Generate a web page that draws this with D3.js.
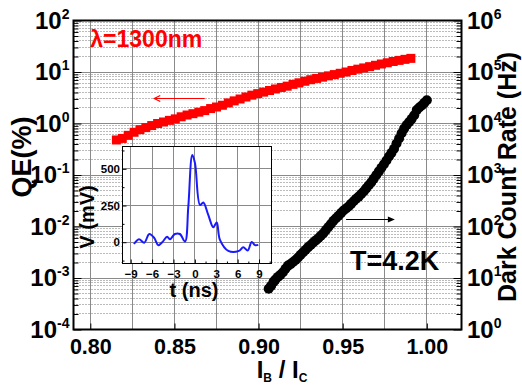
<!DOCTYPE html>
<html>
<head>
<meta charset="utf-8">
<script src="https://cdn.jsdelivr.net/npm/d3@7"></script>
<style>
  body { margin: 0; background: #fff; }
  svg { display: block; font-family: "Liberation Sans", Arial, sans-serif; font-weight: bold; }
</style>
</head>
<body>
<svg id="chart" width="522" height="386"></svg>
<script>
// QE (%) vs bias ratio, red squares, left axis
const qeBias = [0.8155, 0.8190, 0.8225, 0.8260, 0.8295, 0.8330, 0.8365, 0.8400, 0.8435, 0.8470,
  0.8505, 0.8540, 0.8575, 0.8610, 0.8645, 0.8680, 0.8715, 0.8750, 0.8785, 0.8820,
  0.8855, 0.8890, 0.8925, 0.8960, 0.8995, 0.9030, 0.9065, 0.9100, 0.9135, 0.9170,
  0.9205, 0.9240, 0.9275, 0.9310, 0.9345, 0.9380, 0.9415, 0.9450, 0.9485, 0.9520,
  0.9555, 0.9590, 0.9625, 0.9660, 0.9695, 0.9730, 0.9765, 0.9800, 0.9835, 0.9870, 0.9905];
const qeValues = [0.479, 0.513, 0.589, 0.676, 0.759, 0.832, 0.912, 1.00, 1.07, 1.15,
  1.23, 1.35, 1.46, 1.55, 1.66, 1.78, 1.95, 2.09, 2.26, 2.51,
  2.75, 2.99, 3.27, 3.55, 3.80, 4.07, 4.37, 4.68, 5.01, 5.31,
  5.75, 6.17, 6.61, 7.08, 7.50, 7.94, 8.41, 8.91, 9.44, 10.0,
  10.7, 11.35, 12.0, 12.7, 13.5, 14.3, 15.1, 16.0, 16.8, 17.6, 18.4];

// dark count rate (Hz) vs bias ratio, black circles, right axis
const dcrBias = [0.9060, 0.9075, 0.9090, 0.9100, 0.9115, 0.9130, 0.9145, 0.9160, 0.9175, 0.9190,
  0.9205, 0.9220, 0.9235, 0.9250, 0.9265, 0.9280, 0.9295, 0.9310, 0.9325, 0.9340,
  0.9355, 0.9370, 0.9385, 0.9400, 0.9415, 0.9430, 0.9445, 0.9460, 0.9475, 0.9490,
  0.9505, 0.9520, 0.9535, 0.9550, 0.9565, 0.9580, 0.9595, 0.9610, 0.9625, 0.9640,
  0.9655, 0.9670, 0.9685, 0.9700, 0.9715, 0.9730, 0.9745, 0.9760, 0.9775, 0.9790,
  0.9805, 0.9820, 0.9835, 0.9850, 0.9865, 0.9880, 0.9895, 0.9910, 0.9925, 0.9940,
  0.9955, 0.9970, 0.9985, 1.0000];
const dcrValues = [6.2, 7.1, 8.5, 9.3, 10.5, 11.5, 12.9, 15.1, 17.4, 18.6,
  20.4, 22.4, 25.1, 28.2, 31.6, 35.5, 39.8, 43.7, 49.0, 53.7,
  58.9, 66.1, 74.1, 85.1, 97.7, 112, 129, 145, 162, 182,
  204, 224, 245, 275, 309, 347, 380, 427, 479, 550,
  631, 724, 851, 1000, 1175, 1380, 1622, 1905, 2291, 2692,
  3236, 4074, 5129, 6457, 7943, 9333, 10715, 12303, 14454, 18197,
  20417, 22387, 25119, 28184];

// inset: single detector pulse
const pulseTime = [-8.54, -7.84, -7.10, -6.39, -5.70, -5.13, -4.50, -3.90, -3.50, -2.80,
  -2.10, -1.38, -0.92, -0.36, 0.02, 0.72, 1.18, 1.88, 2.58, 3.06,
  3.52, 4.69, 6.19, 6.79, 7.41, 7.97, 8.43, 8.90];
const pulseVolt = [-12, 20, -3, 56, 29, -20, 4, 38, 20, 56,
  56, 4, 242, 594, 538, 254, 270, 186, 102, 134,
  16, -59, -59, -34, -57, 2, -20, -18];

const xTicks = [0.80, 0.85, 0.90, 0.95, 1.00];
const xGrid = [0.800, 0.825, 0.850, 0.875, 0.900, 0.925, 0.950, 0.975, 1.000];
const qeTicks = [1e-4, 1e-3, 1e-2, 1e-1, 1e0, 1e1, 1e2];
const dcrTicks = [1e0, 1e1, 1e2, 1e3, 1e4, 1e5, 1e6];
const insetTimeTicks = [-9, -6, -3, 0, 3, 6, 9];
const insetVoltTicks = [0, 250, 500];

// arrows: [from, to] bias, level on own axis
const qeArrowBias = [0.868, 0.838];
const qeArrowLevel = 3.0;
const dcrArrowBias = [0.952, 0.981];
const dcrArrowLevel = 138;

const svg = d3.select('#chart');

const plot = { left: 73.5, right: 461.5, top: 20.5, bottom: 329.5 };

const x = d3.scaleLinear().domain([0.79, 1.0206]).range([plot.left, plot.right]);
const yQE = d3.scaleLog().domain([1e-4, 1e2]).range([plot.bottom, plot.top]);
const yDC = d3.scaleLog().domain([1, 1e6]).range([plot.bottom, plot.top]);

// minor log positions (2..9 each decade)
const minorQE = [];
for (let e = -4; e < 2; e++) for (let k = 2; k <= 9; k++) minorQE.push(k * Math.pow(10, e));
const minorDC = minorQE.map(v => v * 1e4);

const crisp = v => Math.round(v - 0.5) + 0.5;

// grid
const grid = svg.append('g');
grid.selectAll('.minor')
  .data(minorQE)
  .join('line')
  .attr('class', 'minor')
  .attr('x1', plot.left).attr('x2', plot.right)
  .attr('y1', d => crisp(yQE(d))).attr('y2', d => crisp(yQE(d)))
  .attr('stroke', '#777')
  .attr('stroke-dasharray', '1,2');
grid.selectAll('.hmajor')
  .data(qeTicks.slice(1, -1))
  .join('line')
  .attr('class', 'hmajor')
  .attr('x1', plot.left).attr('x2', plot.right)
  .attr('y1', d => crisp(yQE(d))).attr('y2', d => crisp(yQE(d)))
  .attr('stroke', '#8a8a8a');
grid.selectAll('.vmajor')
  .data(xGrid)
  .join('line')
  .attr('class', 'vmajor')
  .attr('x1', d => crisp(x(d))).attr('x2', d => crisp(x(d)))
  .attr('y1', plot.top).attr('y2', plot.bottom)
  .attr('stroke', '#8a8a8a');

// data
const qeData = qeBias.map((b, i) => ({ b, v: qeValues[i] }));
const dcrData = dcrBias.map((b, i) => ({ b, v: dcrValues[i] }));

svg.append('g').selectAll('rect')
  .data(qeData)
  .join('rect')
  .attr('x', d => x(d.b) - 4.5)
  .attr('y', d => yQE(d.v) - 4.5)
  .attr('width', 9).attr('height', 9)
  .attr('fill', '#ff0000');

svg.append('g').selectAll('circle')
  .data(dcrData)
  .join('circle')
  .attr('cx', d => x(d.b))
  .attr('cy', d => yDC(d.v))
  .attr('r', 5)
  .attr('fill', '#000');

// arrows
const qa = { x1: x(qeArrowBias[0]), x2: x(qeArrowBias[1]), y: crisp(yQE(qeArrowLevel)) };
svg.append('line')
  .attr('x1', qa.x1).attr('x2', qa.x2).attr('y1', qa.y).attr('y2', qa.y)
  .attr('stroke', '#ff0000').attr('stroke-width', 1.2);
svg.append('path')
  .attr('d', `M${qa.x2 + 6},${qa.y - 3}L${qa.x2},${qa.y}L${qa.x2 + 6},${qa.y + 3}`)
  .attr('fill', 'none').attr('stroke', '#ff0000').attr('stroke-width', 1.2);

const da = { x1: x(dcrArrowBias[0]), x2: x(dcrArrowBias[1]), y: crisp(yDC(dcrArrowLevel)) };
svg.append('line')
  .attr('x1', da.x1).attr('x2', da.x2 - 4).attr('y1', da.y).attr('y2', da.y)
  .attr('stroke', '#000').attr('stroke-width', 1.2);
svg.append('path')
  .attr('d', `M${da.x2 - 7},${da.y - 3}L${da.x2},${da.y}L${da.x2 - 7},${da.y + 3}Z`)
  .attr('fill', '#000');

// inset
const inset = { left: 122.5, right: 271.5, top: 146.5, bottom: 263.5 };
const ix = d3.scaleLinear().domain([-10.15, 10.75]).range([inset.left, inset.right]);
const iy = d3.scaleLinear().domain([-145, 652]).range([inset.bottom, inset.top]);

const ig = svg.append('g');
ig.append('rect')
  .attr('x', inset.left).attr('y', inset.top)
  .attr('width', inset.right - inset.left).attr('height', inset.bottom - inset.top)
  .attr('fill', '#fff');
ig.selectAll('.ivg')
  .data(insetTimeTicks)
  .join('line')
  .attr('x1', d => crisp(ix(d))).attr('x2', d => crisp(ix(d)))
  .attr('y1', inset.top).attr('y2', inset.bottom)
  .attr('stroke', '#8a8a8a');
ig.selectAll('.ihg')
  .data(insetVoltTicks)
  .join('line')
  .attr('x1', inset.left).attr('x2', inset.right)
  .attr('y1', d => crisp(iy(d))).attr('y2', d => crisp(iy(d)))
  .attr('stroke', '#8a8a8a');

const pulse = pulseTime.map((t, i) => [t, pulseVolt[i]]);
ig.append('path')
  .datum(pulse)
  .attr('d', d3.line().x(d => ix(d[0])).y(d => iy(d[1])).curve(d3.curveCatmullRom.alpha(0.5)))
  .attr('fill', 'none')
  .attr('stroke', '#1a1aff')
  .attr('stroke-width', 2);

ig.append('rect')
  .attr('x', inset.left).attr('y', inset.top)
  .attr('width', inset.right - inset.left).attr('height', inset.bottom - inset.top)
  .attr('fill', 'none').attr('stroke', '#000');

function styleAxis(g, size) {
  g.attr('font-family', null).attr('font-size', null);
  g.select('.domain').remove();
  g.selectAll('.tick line').attr('stroke', '#000');
  g.selectAll('.tick text').attr('font-size', size).attr('fill', '#000');
}

const iminorT = d3.range(-10.5, 11, 1.5).filter(v => !insetTimeTicks.includes(v));
const iminorV = [-125, 125, 375, 625];

ig.append('g').attr('transform', `translate(0,${inset.bottom})`)
  .call(d3.axisBottom(ix).tickValues(insetTimeTicks).tickSize(-4).tickPadding(6.5))
  .call(g => styleAxis(g, 11.5));
ig.append('g').attr('transform', `translate(0,${inset.bottom})`)
  .call(d3.axisBottom(ix).tickValues(iminorT.filter(v => v > -10.15 && v < 10.75)).tickSize(-2).tickFormat(''))
  .call(g => styleAxis(g, 11));
ig.append('g').attr('transform', `translate(${inset.left},0)`)
  .call(d3.axisLeft(iy).tickValues(insetVoltTicks).tickSize(-4).tickPadding(2.5))
  .call(g => styleAxis(g, 11.5));
ig.append('g').attr('transform', `translate(${inset.left},0)`)
  .call(d3.axisLeft(iy).tickValues(iminorV).tickSize(-2).tickFormat(''))
  .call(g => styleAxis(g, 11));

ig.append('text')
  .attr('transform', 'translate(94,217) rotate(-90)')
  .attr('text-anchor', 'middle')
  .attr('font-size', 20)
  .text('V (mV)');
ig.append('text')
  .attr('x', 194).attr('y', 297)
  .attr('text-anchor', 'middle')
  .attr('font-size', 20)
  .text('t (ns)');

// frame
svg.append('rect')
  .attr('x', plot.left).attr('y', plot.top)
  .attr('width', plot.right - plot.left).attr('height', plot.bottom - plot.top)
  .attr('fill', 'none').attr('stroke', '#000').attr('stroke-width', 2);

// main axes
function powerLabel(sel) {
  sel.each(function (d) {
    const t = d3.select(this);
    t.text(null);
    t.append('tspan').text('10');
    t.append('tspan').attr('dy', -10).attr('font-size', 14)
      .text(Math.round(Math.log10(d)));
  });
}

svg.append('g').attr('transform', `translate(0,${plot.bottom})`)
  .call(d3.axisBottom(x).tickValues(xTicks).tickSize(-6).tickPadding(9).tickFormat(d3.format('.2f')))
  .call(g => styleAxis(g, 21.5));

svg.append('g').attr('transform', `translate(${plot.left},0)`)
  .call(d3.axisLeft(yQE).tickValues(qeTicks).tickSize(-8).tickPadding(4))
  .call(g => styleAxis(g, 24))
  .call(g => g.selectAll('.tick text').call(powerLabel));
svg.append('g').attr('transform', `translate(${plot.left},0)`)
  .call(d3.axisLeft(yQE).tickValues(minorQE).tickSize(-5).tickFormat(''))
  .call(g => styleAxis(g, 10));

svg.append('g').attr('transform', `translate(${plot.right},0)`)
  .call(d3.axisRight(yDC).tickValues(dcrTicks).tickSize(-8).tickPadding(5.5))
  .call(g => styleAxis(g, 24))
  .call(g => g.selectAll('.tick text').call(powerLabel));
svg.append('g').attr('transform', `translate(${plot.right},0)`)
  .call(d3.axisRight(yDC).tickValues(minorDC).tickSize(-5).tickFormat(''))
  .call(g => styleAxis(g, 10));

// axis titles
const xt = svg.append('text')
  .attr('x', 282).attr('y', 378)
  .attr('text-anchor', 'middle')
  .attr('font-size', 24);
xt.append('tspan').text('I');
xt.append('tspan').attr('font-size', 12).attr('dy', 4).text('B');
xt.append('tspan').attr('dy', -4).text(' / I');
xt.append('tspan').attr('font-size', 12).attr('dy', 4).text('C');

svg.append('text')
  .attr('transform', 'translate(31,157) rotate(-90)')
  .attr('text-anchor', 'middle')
  .attr('font-size', 27)
  .text('QE(%)');

svg.append('text')
  .attr('transform', 'translate(516,177) rotate(-90)')
  .attr('text-anchor', 'middle')
  .attr('font-size', 25)
  .text('Dark Count Rate (Hz)');

// annotations
svg.append('text')
  .attr('x', x(0.80)).attr('y', 47)
  .attr('font-size', 23)
  .attr('fill', '#ff0000')
  .text('λ=1300nm');
svg.append('text')
  .attr('x', 350).attr('y', 270)
  .attr('font-size', 27)
  .text('T=4.2K');
</script>
</body>
</html>
